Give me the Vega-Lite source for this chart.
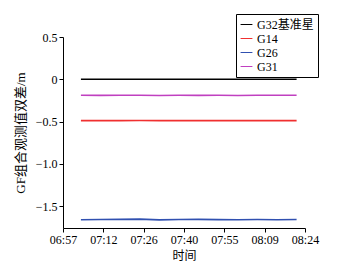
{
  "$schema": "https://vega.github.io/schema/vega-lite/v6.json",
  "width": 242,
  "height": 191,
  "autosize": {"type": "none"},
  "padding": {"left": 63, "top": 37, "right": 59, "bottom": 40},
  "background": "white",
  "config": {
    "view": {"stroke": null},
    "font": "Liberation Serif, Noto Sans CJK SC",
    "axis": {"grid": false, "domainColor": "black", "tickColor": "black", "labelColor": "black", "titleColor": "black", "labelFont": "Liberation Serif", "labelFontSize": 12, "titleFont": "Liberation Serif, Noto Sans CJK SC", "titleFontSize": 12, "titleFontWeight": "normal", "tickSize": 4}
  },
  "data": {
    "values": [
      {"t": "2020-01-01T07:04:00", "s": "G32基准星", "v": 0},
      {"t": "2020-01-01T07:11:00", "s": "G32基准星", "v": 0},
      {"t": "2020-01-01T07:18:00", "s": "G32基准星", "v": 0},
      {"t": "2020-01-01T07:25:00", "s": "G32基准星", "v": 0},
      {"t": "2020-01-01T07:32:00", "s": "G32基准星", "v": 0},
      {"t": "2020-01-01T07:39:00", "s": "G32基准星", "v": 0},
      {"t": "2020-01-01T07:46:00", "s": "G32基准星", "v": 0},
      {"t": "2020-01-01T07:53:00", "s": "G32基准星", "v": 0},
      {"t": "2020-01-01T08:00:00", "s": "G32基准星", "v": 0},
      {"t": "2020-01-01T08:07:00", "s": "G32基准星", "v": 0},
      {"t": "2020-01-01T08:14:00", "s": "G32基准星", "v": 0},
      {"t": "2020-01-01T08:21:00", "s": "G32基准星", "v": 0},
      {"t": "2020-01-01T07:04:00", "s": "G14", "v": -0.49},
      {"t": "2020-01-01T07:11:00", "s": "G14", "v": -0.489},
      {"t": "2020-01-01T07:18:00", "s": "G14", "v": -0.49},
      {"t": "2020-01-01T07:25:00", "s": "G14", "v": -0.488},
      {"t": "2020-01-01T07:32:00", "s": "G14", "v": -0.49},
      {"t": "2020-01-01T07:39:00", "s": "G14", "v": -0.489},
      {"t": "2020-01-01T07:46:00", "s": "G14", "v": -0.49},
      {"t": "2020-01-01T07:53:00", "s": "G14", "v": -0.489},
      {"t": "2020-01-01T08:00:00", "s": "G14", "v": -0.49},
      {"t": "2020-01-01T08:07:00", "s": "G14", "v": -0.489},
      {"t": "2020-01-01T08:14:00", "s": "G14", "v": -0.49},
      {"t": "2020-01-01T08:21:00", "s": "G14", "v": -0.49},
      {"t": "2020-01-01T07:04:00", "s": "G26", "v": -1.662},
      {"t": "2020-01-01T07:11:00", "s": "G26", "v": -1.66},
      {"t": "2020-01-01T07:18:00", "s": "G26", "v": -1.658},
      {"t": "2020-01-01T07:25:00", "s": "G26", "v": -1.655},
      {"t": "2020-01-01T07:32:00", "s": "G26", "v": -1.664},
      {"t": "2020-01-01T07:39:00", "s": "G26", "v": -1.66},
      {"t": "2020-01-01T07:46:00", "s": "G26", "v": -1.658},
      {"t": "2020-01-01T07:53:00", "s": "G26", "v": -1.661},
      {"t": "2020-01-01T08:00:00", "s": "G26", "v": -1.663},
      {"t": "2020-01-01T08:07:00", "s": "G26", "v": -1.66},
      {"t": "2020-01-01T08:14:00", "s": "G26", "v": -1.662},
      {"t": "2020-01-01T08:21:00", "s": "G26", "v": -1.659},
      {"t": "2020-01-01T07:04:00", "s": "G31", "v": -0.19},
      {"t": "2020-01-01T07:11:00", "s": "G31", "v": -0.191},
      {"t": "2020-01-01T07:18:00", "s": "G31", "v": -0.189},
      {"t": "2020-01-01T07:25:00", "s": "G31", "v": -0.19},
      {"t": "2020-01-01T07:32:00", "s": "G31", "v": -0.192},
      {"t": "2020-01-01T07:39:00", "s": "G31", "v": -0.19},
      {"t": "2020-01-01T07:46:00", "s": "G31", "v": -0.191},
      {"t": "2020-01-01T07:53:00", "s": "G31", "v": -0.19},
      {"t": "2020-01-01T08:00:00", "s": "G31", "v": -0.192},
      {"t": "2020-01-01T08:07:00", "s": "G31", "v": -0.19},
      {"t": "2020-01-01T08:14:00", "s": "G31", "v": -0.189},
      {"t": "2020-01-01T08:21:00", "s": "G31", "v": -0.19}
    ]
  },
  "mark": {"type": "line", "strokeWidth": 1.6},
  "encoding": {
    "x": {
      "field": "t", "type": "temporal", "title": "时间",
      "scale": {"domain": [{"year": 2020, "month": 1, "date": 1, "hours": 6, "minutes": 57, "seconds": 36}, {"year": 2020, "month": 1, "date": 1, "hours": 8, "minutes": 24, "seconds": 0}]},
      "axis": {
        "format": "%H:%M",
        "values": [
          {"year": 2020, "month": 1, "date": 1, "hours": 6, "minutes": 57, "seconds": 36},
          {"year": 2020, "month": 1, "date": 1, "hours": 7, "minutes": 12, "seconds": 0},
          {"year": 2020, "month": 1, "date": 1, "hours": 7, "minutes": 26, "seconds": 24},
          {"year": 2020, "month": 1, "date": 1, "hours": 7, "minutes": 40, "seconds": 48},
          {"year": 2020, "month": 1, "date": 1, "hours": 7, "minutes": 55, "seconds": 12},
          {"year": 2020, "month": 1, "date": 1, "hours": 8, "minutes": 9, "seconds": 36},
          {"year": 2020, "month": 1, "date": 1, "hours": 8, "minutes": 24, "seconds": 0}
        ],
        "labelOverlap": false,
        "labelFlush": false,
        "titlePadding": 5
      }
    },
    "y": {
      "field": "v", "type": "quantitative", "title": "GF组合观测值双差/m",
      "scale": {"domain": [-1.76, 0.5], "nice": false, "zero": false},
      "axis": {"values": [0.5, 0, -0.5, -1, -1.5], "labelExpr": "datum.value == 0 ? '0' : format(datum.value, '.1f')", "titlePadding": 8, "titleFontSize": 13}
    },
    "color": {
      "field": "s", "type": "nominal", "title": null,
      "scale": {"domain": ["G32基准星", "G14", "G26", "G31"], "range": ["#000000", "#f03030", "#3050b0", "#c040c0"]},
      "legend": {
        "orient": "none", "legendX": 173, "legendY": -23,
        "strokeColor": "black", "padding": 4, "fillColor": "white",
        "symbolType": "stroke", "symbolSize": 140, "symbolStrokeWidth": 1,
        "labelFontSize": 12, "labelFont": "Liberation Serif, Noto Sans CJK SC", "labelColor": "black",
        "rowPadding": 1, "labelOffset": 4
      }
    }
  }
}
